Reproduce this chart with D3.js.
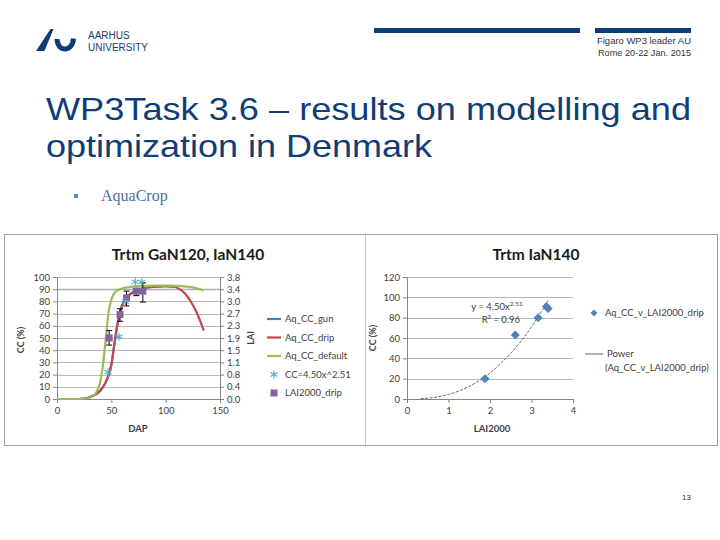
<!DOCTYPE html>
<html>
<head>
<meta charset="utf-8">
<script src="https://cdn.jsdelivr.net/npm/d3@7"></script>
<style>
  body { margin: 0; background: #fff; }
  svg { display: block; }
  .chart text { font-family: Lato, "Open Sans", sans-serif; fill: #404040; }
</style>
</head>
<body>
<script>

// ---- left chart: canopy cover vs days after planting ----
var dapDrip   = [0, 20, 25, 30, 35, 40, 45, 48, 50, 52, 54, 56, 58, 60, 65, 70, 75, 80, 90, 100, 108, 112, 116, 120, 125, 130, 135];
var ccDrip    = [0, 0, 0.3, 1.5, 3.5, 7, 14, 21, 28, 40, 52, 63, 71, 77, 84, 87.5, 89.5, 91, 92, 92.5, 92, 90.5, 88, 84, 77, 68, 56];

var dapGun    = [0, 20, 25, 30, 35, 40, 45, 48, 50, 52, 54, 56, 58, 60, 65, 70, 75, 80, 90, 100, 108];
var ccGun     = [0, 0, 0.3, 1.5, 3.5, 7, 14, 21, 28, 40, 52, 63, 71, 77, 84, 87.5, 89.5, 91, 92, 92.5, 92];

var dapDefault = [0, 20, 30, 35, 38, 40, 42, 44, 45.5, 47, 49, 51, 54, 58, 65, 75, 90, 105, 115, 125, 135];
var ccDefault  = [0, 0, 1, 4, 9, 15, 26, 42, 55, 68, 78, 84, 88, 90, 91.5, 92.5, 93, 93, 92.5, 91.5, 89];

// CC computed from LAI (asterisks)
var dapCalc = [47, 57, 63, 72, 78];
var ccCalc  = [22, 51, 80, 96, 96];

// measured LAI (squares, right axis) with error bar limits
var dapLai  = [48, 58, 64, 73, 79];
var laiVal  = [1.9, 2.63, 3.15, 3.36, 3.36];
var laiLow  = [1.68, 2.42, 2.90, 3.22, 3.02];
var laiHigh = [2.13, 2.81, 3.36, 3.41, 3.62];

var ccTicks   = [0, 10, 20, 30, 40, 50, 60, 70, 80, 90, 100];
var laiTicks  = [0, 0.38, 0.76, 1.14, 1.52, 1.90, 2.28, 2.66, 3.04, 3.42, 3.80];
var dapTicks  = [0, 50, 100, 150];

// ---- right chart: CC vs LAI2000 ----
var laiMeas = [1.88, 2.61, 3.16, 3.36, 3.40];
var ccMeas  = [20, 63, 80, 91, 89];

// power trendline
var trendX = [0.33, 0.6, 1, 1.25, 1.5, 1.75, 2, 2.25, 2.5, 2.75, 3, 3.25, 3.4];
var trendY = [0.3, 1.2, 4.5, 7.9, 12.4, 18.3, 25.6, 34.4, 45, 57, 71, 86.7, 97];

var ccTicksR  = [0, 20, 40, 60, 80, 100, 120];
var laiTicksR = [0, 1, 2, 3, 4];

var colGun = "#4a7ebb", colDrip = "#be4b48", colDefault = "#9bbb59",
    colCalc = "#4bacc6", colLai = "#8064a2", colMeas = "#4f81bd";
var gridCol = "#b9b9b9", axisCol = "#868686";

var svg = d3.select("body").append("svg")
  .attr("width", 720).attr("height", 540);

// ---------- slide header ----------
var auBlue = "#0d3d74";
svg.append("path")
  .attr("d", "M36,51 L44.5,51 L53.5,29 L50.5,29 Z")
  .attr("fill", auBlue);
svg.append("path")
  .attr("d", "M57,39 C57.5,52.5 72.5,52.5 73.5,38.5")
  .attr("fill", "none").attr("stroke", auBlue).attr("stroke-width", 5);

svg.append("text").attr("x", 88).attr("y", 39)
  .style("font", "10px 'Liberation Sans', Arial, sans-serif").style("fill", "#1c3e6e")
  .text("AARHUS");
svg.append("text").attr("x", 88).attr("y", 51)
  .style("font", "10px 'Liberation Sans', Arial, sans-serif").style("fill", "#1c3e6e")
  .text("UNIVERSITY");

svg.append("rect").attr("x", 374).attr("y", 28).attr("width", 206).attr("height", 5).attr("fill", auBlue);
svg.append("rect").attr("x", 595).attr("y", 28).attr("width", 96).attr("height", 5).attr("fill", auBlue);

svg.append("text").attr("x", 691).attr("y", 44).attr("text-anchor", "end")
  .attr("textLength", 94).attr("lengthAdjust", "spacingAndGlyphs")
  .style("font", "9.5px 'Liberation Sans', Arial, sans-serif").style("fill", "#333")
  .text("Figaro WP3 leader AU");
svg.append("text").attr("x", 691).attr("y", 56).attr("text-anchor", "end")
  .attr("textLength", 93).attr("lengthAdjust", "spacingAndGlyphs")
  .style("font", "9.5px 'Liberation Sans', Arial, sans-serif").style("fill", "#333")
  .text("Rome 20-22 Jan. 2015");

svg.append("text").attr("x", 46).attr("y", 120)
  .attr("textLength", 645).attr("lengthAdjust", "spacingAndGlyphs")
  .style("font", "32px 'Liberation Sans', Arial, sans-serif").style("fill", "#0f3d78")
  .text("WP3Task 3.6 \u2013 results on modelling and");
svg.append("text").attr("x", 46).attr("y", 157)
  .attr("textLength", 386).attr("lengthAdjust", "spacingAndGlyphs")
  .style("font", "32px 'Liberation Sans', Arial, sans-serif").style("fill", "#0f3d78")
  .text("optimization in Denmark");

svg.append("rect").attr("x", 74).attr("y", 194).attr("width", 4).attr("height", 4).attr("fill", "#5b8bc4");
svg.append("text").attr("x", 101).attr("y", 201)
  .style("font", "16px 'Liberation Serif', 'Times New Roman', serif").style("fill", "#4d6f9e")
  .text("AquaCrop");

svg.append("text").attr("x", 691).attr("y", 500).attr("text-anchor", "end")
  .style("font", "8px 'Liberation Sans', Arial, sans-serif").style("fill", "#333")
  .text("13");

// ---------- chart picture frame ----------
var chart = svg.append("g").attr("class", "chart");
chart.append("rect").attr("x", 4.5).attr("y", 234.5).attr("width", 713).attr("height", 211)
  .attr("fill", "#fff").attr("stroke", "#a0a0a0");
chart.append("line").attr("x1", 365.5).attr("x2", 365.5).attr("y1", 235).attr("y2", 445)
  .attr("stroke", "#c8c8c8");

function styleAxis(g) {
  g.select(".domain").attr("stroke", axisCol);
  g.selectAll(".tick line").attr("stroke", axisCol);
  g.selectAll(".tick text").style("font-size", "9.5px").style("font-family", "Lato, sans-serif").attr("fill", "#404040");
}

// ---------- left chart ----------
var xL = d3.scaleLinear().domain([0, 150]).range([57, 220]);
var yL = d3.scaleLinear().domain([0, 100]).range([399, 277]);
var yLai = d3.scaleLinear().domain([0, 3.8]).range([399, 277]);

var left = chart.append("g");

left.selectAll(".gridL").data(ccTicks.slice(1)).enter().append("line")
  .attr("x1", xL(0)).attr("x2", xL(150))
  .attr("y1", d => Math.round(yL(d)) + 0.5).attr("y2", d => Math.round(yL(d)) + 0.5)
  .attr("stroke", d => d === 90 ? "#b0b0b0" : gridCol)
  .attr("stroke-width", d => d === 90 ? 1.6 : 1);

left.append("g").attr("transform", "translate(" + xL(0) + ",0)")
  .call(d3.axisLeft(yL).tickValues(ccTicks).tickSize(4).tickSizeOuter(0).tickPadding(3))
  .call(styleAxis);
left.append("g").attr("transform", "translate(" + xL(150) + ",0)")
  .call(d3.axisRight(yLai).tickValues(laiTicks).tickFormat(d3.format(".1f")).tickSize(4).tickSizeOuter(0).tickPadding(3))
  .call(styleAxis);
left.append("g").attr("transform", "translate(0," + yL(0) + ")")
  .call(d3.axisBottom(xL).tickValues(dapTicks).tickSize(4).tickSizeOuter(0).tickPadding(4))
  .call(styleAxis);

var lineL = d3.line().x(d => xL(d[0])).y(d => yL(d[1])).curve(d3.curveMonotoneX);

var series = [
  {name: "Aq_CC_gun",     x: dapGun,     y: ccGun,     col: colGun},
  {name: "Aq_CC_drip",    x: dapDrip,    y: ccDrip,    col: colDrip},
  {name: "Aq_CC_default", x: dapDefault, y: ccDefault, col: colDefault}
];

left.selectAll(".ccLine").data(series).enter().append("path")
  .attr("d", s => lineL(d3.zip(s.x, s.y)))
  .attr("fill", "none")
  .attr("stroke", s => s.col)
  .attr("stroke-width", 2.2);

// error bars for LAI
var laiPts = dapLai.map((d, i) => ({dap: d, v: laiVal[i], lo: laiLow[i], hi: laiHigh[i]}));
var eb = left.selectAll(".eb").data(laiPts).enter().append("g").attr("stroke", "#000").attr("stroke-width", 1);
eb.append("line").attr("x1", d => xL(d.dap)).attr("x2", d => xL(d.dap))
  .attr("y1", d => yLai(d.lo)).attr("y2", d => yLai(d.hi));
eb.append("line").attr("x1", d => xL(d.dap) - 3).attr("x2", d => xL(d.dap) + 3)
  .attr("y1", d => yLai(d.lo)).attr("y2", d => yLai(d.lo));
eb.append("line").attr("x1", d => xL(d.dap) - 3).attr("x2", d => xL(d.dap) + 3)
  .attr("y1", d => yLai(d.hi)).attr("y2", d => yLai(d.hi));

left.selectAll(".laiSq").data(laiPts).enter().append("rect")
  .attr("x", d => xL(d.dap) - 3.5).attr("y", d => yLai(d.v) - 3.5)
  .attr("width", 7).attr("height", 7).attr("fill", colLai);

var star = d3.symbol().type(d3.symbolAsterisk).size(45);
left.selectAll(".calc").data(d3.zip(dapCalc, ccCalc)).enter().append("path")
  .attr("d", star)
  .attr("transform", d => "translate(" + xL(d[0]) + "," + yL(d[1]) + ")")
  .attr("fill", "none").attr("stroke", colCalc).attr("stroke-width", 1.1);

left.append("text").attr("x", 188).attr("y", 260).attr("text-anchor", "middle")
  .style("font-size", "15.5px").style("font-weight", "bold").style("fill", "#1a1a1a")
  .text("Trtm GaN120, IaN140");
left.append("text").attr("transform", "translate(24,340) rotate(-90)").attr("text-anchor", "middle")
  .style("font-size", "9px").style("font-weight", "bold").text("CC (%)");
left.append("text").attr("transform", "translate(254,338) rotate(-90)").attr("text-anchor", "middle")
  .style("font-size", "9px").style("font-weight", "bold").text("LAI");
left.append("text").attr("x", 138).attr("y", 432).attr("text-anchor", "middle")
  .style("font-size", "9.5px").style("font-weight", "bold").text("DAP");

// legend
var legNames = ["Aq_CC_gun", "Aq_CC_drip", "Aq_CC_default", "CC=4.50x^2.51", "LAI2000_drip"];
var legY = d3.scaleLinear().domain([0, 4]).range([319, 393]);
var leg = left.selectAll(".leg").data(legNames).enter().append("g")
  .attr("transform", (d, i) => "translate(0," + legY(i) + ")");
leg.filter((d, i) => i < 3).append("line")
  .attr("x1", 267).attr("x2", 281).attr("y1", 0).attr("y2", 0)
  .attr("stroke", (d, i) => series[i].col).attr("stroke-width", 2.2);
leg.filter((d, i) => i === 3).append("path").attr("d", star)
  .attr("transform", "translate(274,0)")
  .attr("fill", "none").attr("stroke", colCalc).attr("stroke-width", 1.1);
leg.filter((d, i) => i === 4).append("rect")
  .attr("x", 270.5).attr("y", -3.5).attr("width", 7).attr("height", 7).attr("fill", colLai);
leg.append("text").attr("x", 285).attr("y", 0).attr("dy", "0.35em")
  .style("font-size", "9.5px").text(d => d);

// ---------- right chart ----------
var xR = d3.scaleLinear().domain([0, 4]).range([407, 573]);
var yR = d3.scaleLinear().domain([0, 120]).range([399, 277]);

var right = chart.append("g");

right.selectAll(".gridR").data(ccTicksR.slice(1)).enter().append("line")
  .attr("x1", xR(0)).attr("x2", xR(4))
  .attr("y1", d => Math.round(yR(d)) + 0.5).attr("y2", d => Math.round(yR(d)) + 0.5)
  .attr("stroke", gridCol);

right.append("g").attr("transform", "translate(" + xR(0) + ",0)")
  .call(d3.axisLeft(yR).tickValues(ccTicksR).tickSize(4).tickSizeOuter(0).tickPadding(3))
  .call(styleAxis);
right.append("g").attr("transform", "translate(0," + yR(0) + ")")
  .call(d3.axisBottom(xR).tickValues(laiTicksR).tickFormat(d3.format("d")).tickSize(4).tickSizeOuter(0).tickPadding(4))
  .call(styleAxis);

var lineR = d3.line().x(d => xR(d[0])).y(d => yR(d[1])).curve(d3.curveMonotoneX);
right.append("path")
  .attr("d", lineR(d3.zip(trendX, trendY)))
  .attr("fill", "none").attr("stroke", "#404040").attr("stroke-width", 0.8)
  .attr("stroke-dasharray", "3,1.5");

var diamond = d3.symbol().type(d3.symbolDiamond2).size(52);
right.selectAll(".meas").data(d3.zip(laiMeas, ccMeas)).enter().append("path")
  .attr("d", diamond)
  .attr("transform", d => "translate(" + xR(d[0]) + "," + yR(d[1]) + ")")
  .attr("fill", colMeas);

var eq = right.append("text").attr("x", 497).attr("y", 310).attr("text-anchor", "middle")
  .style("font-size", "9.5px");
eq.append("tspan").text("y = 4.50x");
eq.append("tspan").attr("dy", -4).style("font-size", "6.5px").text("2.51");
right.append("text").attr("x", 501).attr("y", 323).attr("text-anchor", "middle")
  .style("font-size", "9.5px").text("R\u00b2 = 0.96");

right.append("text").attr("x", 536).attr("y", 260).attr("text-anchor", "middle")
  .style("font-size", "15.5px").style("font-weight", "bold").style("fill", "#1a1a1a")
  .text("Trtm IaN140");
right.append("text").attr("transform", "translate(376,338) rotate(-90)").attr("text-anchor", "middle")
  .style("font-size", "9px").style("font-weight", "bold").text("CC (%)");
right.append("text").attr("x", 492).attr("y", 432).attr("text-anchor", "middle")
  .style("font-size", "9.5px").style("font-weight", "bold").text("LAI2000");

// right legend
right.append("path").attr("d", d3.symbol().type(d3.symbolDiamond2).size(30))
  .attr("transform", "translate(594,313)").attr("fill", colMeas);
right.append("text").attr("x", 605).attr("y", 313).attr("dy", "0.35em")
  .style("font-size", "9.5px").text("Aq_CC_v_LAI2000_drip");
right.append("line").attr("x1", 585).attr("x2", 603).attr("y1", 354).attr("y2", 354)
  .attr("stroke", "#404040").attr("stroke-width", 0.8);
right.append("text").attr("x", 607).attr("y", 354).attr("dy", "0.35em")
  .style("font-size", "9.5px").text("Power");
right.append("text").attr("x", 605).attr("y", 368).attr("dy", "0.35em")
  .style("font-size", "9.5px").text("(Aq_CC_v_LAI2000_drip)");

</script>
</body>
</html>
